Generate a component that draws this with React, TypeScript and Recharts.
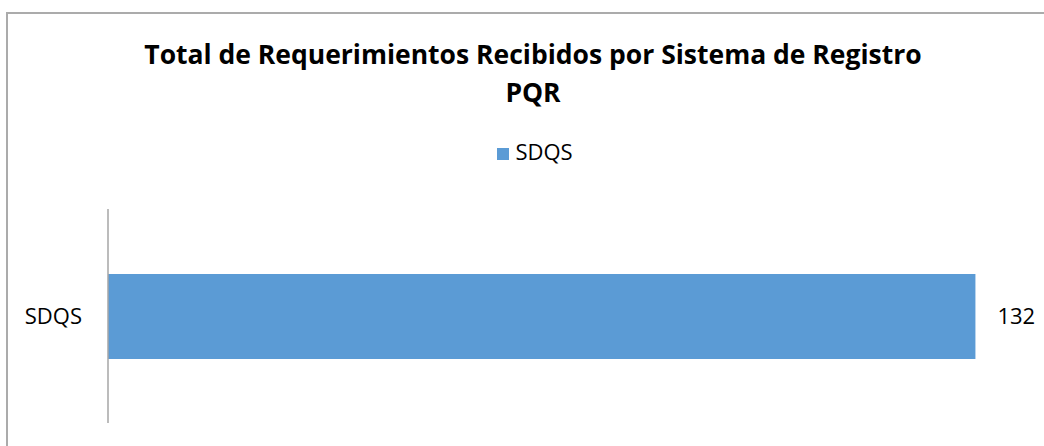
import { BarChart, Bar, XAxis, YAxis, Legend, LabelList } from "recharts";

const categories = ["SDQS"];
const sdqsValues = [132];
const seriesName = "SDQS";
const titleLines = ["Total de Requerimientos Recibidos por Sistema de Registro", "PQR"];

const data = categories.map((c, i) => ({ name: c, value: sdqsValues[i] }));

const FONT = "'Open Sans', Lato, sans-serif";
const BLUE = "#5b9bd5";

export default function App() {
  return (
    <div style={{ position: "absolute", left: 0, top: 0, width: 1044, height: 446, overflow: "hidden", background: "#fff", fontFamily: FONT }}>
      <div
        style={{
          position: "absolute",
          left: 6,
          top: 12,
          width: 1100,
          height: 500,
          borderTop: "2px solid #ababab",
          borderLeft: "2px solid #ababab",
        }}
      />
      <div
        style={{
          position: "absolute",
          left: 0,
          top: 35,
          width: 1066,
          textAlign: "center",
          fontWeight: 700,
          fontSize: 26.5,
          lineHeight: "38px",
          color: "#000",
        }}
      >
        {titleLines.map((t) => (
          <div key={t}>{t}</div>
        ))}
      </div>
      <BarChart
        width={1044}
        height={446}
        layout="vertical"
        data={data}
        margin={{ top: 209, right: 16, bottom: 23, left: 0 }}
      >
        <XAxis type="number" domain={[0, 140]} hide />
        <YAxis
          type="category"
          dataKey="name"
          width={108}
          axisLine={{ stroke: "#a6a6a6", strokeWidth: 1.5 }}
          tickLine={false}
          tickSize={0}
          tickMargin={26}
          tick={{ fontSize: 22, fill: "#000", fontFamily: FONT }}
        />
        <Legend
          verticalAlign="middle"
          align="center"
          iconType="square"
          iconSize={12}
          wrapperStyle={{ top: 136, left: 18, width: 1044, fontSize: 22, fontFamily: FONT }}
          formatter={(v) => <span style={{ color: "#000", marginLeft: 2 }}>{v}</span>}
        />
        <Bar dataKey="value" name={seriesName} fill={BLUE} barSize={85} isAnimationActive={false}>
          <LabelList dataKey="value" position="right" offset={22} fill="#000" fontSize={22} fontFamily={FONT} />
        </Bar>
      </BarChart>
    </div>
  );
}
